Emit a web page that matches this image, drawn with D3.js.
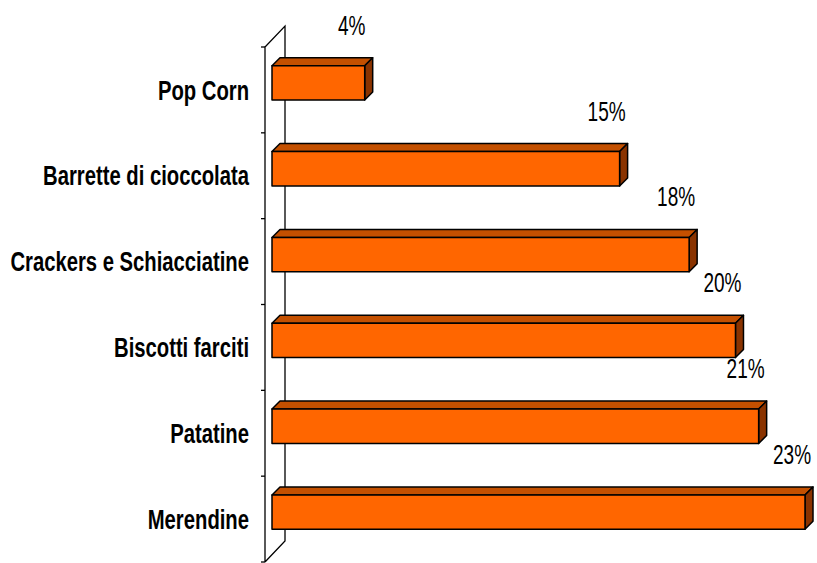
<!DOCTYPE html>
<html><head><meta charset="utf-8">
<script src="https://cdn.jsdelivr.net/npm/d3@7"></script>
<style>body{margin:0;background:#fff}svg{display:block}</style>
</head><body>
<script>
const categories = ["Pop Corn","Barrette di cioccolata","Crackers e Schiacciatine","Biscotti farciti","Patatine","Merendine"];
const values = [4,15,18,20,21,23];
const valueLabels = ["4%","15%","18%","20%","21%","23%"];

(function(){
const W=817,H=563;
const svg=d3.select("body").append("svg").attr("width",W).attr("height",H);
const axisX=265, yTop=47, yBottom=562, wallDx=20, wallDy=-21;
const depth=8;
const y=d3.scaleBand().domain(categories).range([yTop,yBottom]).paddingInner(0.6).paddingOuter(0.3);
const yb=d3.scaleBand().domain(categories).range([yTop,yBottom]);
const x=d3.scaleLinear().domain([0,23]).range([axisX+7,805]);
const font='"Liberation Sans",Arial,sans-serif';

svg.append("path").attr("fill","none").attr("stroke","#000").attr("stroke-width",1.3)
 .attr("d",`M${axisX},${yBottom}L${axisX},${yTop}L${axisX+wallDx},${yTop+wallDy}L${axisX+wallDx},${yBottom+wallDy}L${axisX},${yBottom}`);
const bounds=categories.map(c=>yb(c)).concat([yBottom]);
svg.selectAll("line.tk").data(bounds).join("line").attr("class","tk")
 .attr("x1",axisX-4).attr("x2",axisX).attr("y1",d=>d).attr("y2",d=>d)
 .attr("stroke","#000").attr("stroke-width",1.3);

const g=svg.append("g").attr("stroke","#000").attr("stroke-width",1.5).attr("stroke-linejoin","round");
categories.forEach((c,i)=>{
  const x0=x(0), x1=x(values[i]);
  const y0=y(c)-7, h=y.bandwidth();
  g.append("path").attr("fill","#c45000")
   .attr("d",`M${x0},${y0}L${x0+depth},${y0-depth}L${x1+depth},${y0-depth}L${x1},${y0}Z`);
  g.append("path").attr("fill","#8a3300")
   .attr("d",`M${x1},${y0}L${x1+depth},${y0-depth}L${x1+depth},${y0+h-depth}L${x1},${y0+h}Z`);
  g.append("rect").attr("fill","#ff6600").attr("x",x0).attr("y",y0).attr("width",x1-x0).attr("height",h);
});

svg.selectAll("text.cat").data(categories).join("text").attr("class","cat")
 .attr("transform",d=>`translate(249,${yb(d)+yb.bandwidth()/2}) scale(0.75,1)`)
 .attr("dy","0.36em")
 .attr("text-anchor","end").attr("font-family",font).attr("font-weight","bold")
 .attr("font-size",27).text(d=>d);

svg.selectAll("text.val").data(values).join("text").attr("class","val")
 .attr("transform",(d,i)=>`translate(${x(d)-13},${y(categories[i])-7-31}) scale(0.68,1)`)
 .attr("text-anchor","middle").attr("font-family",font)
 .attr("font-size",28).text((d,i)=>valueLabels[i]);
})();
</script>
</body></html>
